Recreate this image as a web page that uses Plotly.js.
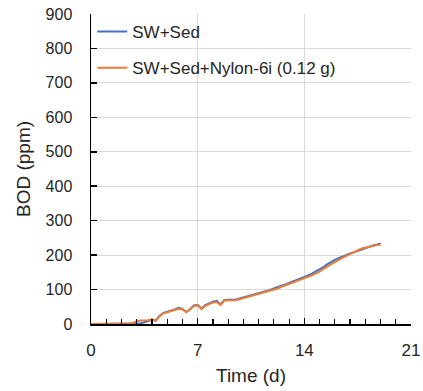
<!DOCTYPE html>
<html>
<head>
<meta charset="utf-8">
<script src="https://cdn.plot.ly/plotly-3.0.1.min.js"></script>
<style>html,body{margin:0;padding:0;background:#fff;}#chart{width:423px;height:391px;}</style>
</head>
<body>
<div id="chart"></div>
<script>
const days = [0,0.25,0.5,0.75,1,1.25,1.5,1.75,2,2.25,2.5,2.75,3,3.25,3.5,3.75,4,4.25,4.5,4.75,5,5.25,5.5,5.75,6,6.25,6.5,6.75,7,7.25,7.5,7.75,8,8.25,8.5,8.75,9,9.25,9.5,9.75,10,10.25,10.5,10.75,11,11.25,11.5,11.75,12,12.25,12.5,12.75,13,13.25,13.5,13.75,14,14.25,14.5,14.75,15,15.25,15.5,15.75,16,16.25,16.5,16.75,17,17.25,17.5,17.75,18,18.25,18.5,18.75,19];
const swSed = [0,0,0,0,0,0,0,0,0,0,0,0,1,2,5,8,12,10,24,32,35,38,42,47,44,35,43,54,56,45,55,60,65,67,57,70,70,69,71,74,77,80,82,85,88,91,95,99,103,106,111,115,119,124,128,132,137,141,146,152,158,165,173,180,186,191,196,201,205,208,212,217,221,224,228,230,234];
const swSedNylon = [0,0,0,0,0,0,0,0,0,0,0,3,8,10,10,11,14,10,22,31,34,37,40,44,42,34,42,52,54,43,53,58,62,64,55,68,68,67,69,72,75,78,80,83,86,89,92,96,100,103,108,112,116,120,124,128,133,136,141,147,152,160,167,174,180,186,192,198,204,209,214,219,222,225,228,229,230];
const seriesNames = ["SW+Sed", "SW+Sed+Nylon-6i (0.12 g)"];
const xTicks = [0, 7, 14, 21];

const font = "Liberation Sans, Arial, sans-serif";
const traces = [
  {x: days, y: swSed, name: seriesNames[0], mode: "lines", legendgroup: "a",
   line: {color: "#4472C4", width: 2}},
  {x: days, y: swSedNylon, name: seriesNames[1], mode: "lines", legendgroup: "b",
   line: {color: "#ED7D31", width: 2}}
];
const layout = {
  width: 423, height: 391,
  margin: {l: 91, r: 12, t: 14, b: 67},
  paper_bgcolor: "#fff", plot_bgcolor: "#fff",
  font: {family: font, color: "#404040", size: 16},
  showlegend: true,
  legend: {x: 0.004, y: 1.0, xanchor: "left", yanchor: "top", bgcolor: "rgba(0,0,0,0)",
           font: {size: 17, color: "#262626", family: font}, tracegroupgap: 11},
  xaxis: {
    range: [0, 21], tickvals: xTicks, ticktext: xTicks.map(String),
    showline: true, linecolor: "#000", linewidth: 1.5, mirror: false,
    ticks: "inside", ticklen: 6, tickcolor: "#000", tickwidth: 1.5,
    minor: {dtick: 1, ticks: "inside", ticklen: 5, tickcolor: "#000", tickwidth: 1.2, showgrid: false},
    showgrid: true, gridcolor: "#d9d9d9", gridwidth: 1, zeroline: false,
    tickfont: {size: 17, color: "#262626"}, ticklabelstandoff: 10,
    title: {text: "Time (d)", font: {size: 19, color: "#262626"}, standoff: 10}
  },
  yaxis: {
    range: [0, 900], dtick: 100,
    showline: true, linecolor: "#000", linewidth: 1.5,
    ticks: "inside", ticklen: 6, tickcolor: "#000", tickwidth: 1.5,
    showgrid: true, gridcolor: "#d9d9d9", gridwidth: 1, zeroline: false,
    tickfont: {size: 16, color: "#262626"}, ticklabelstandoff: 14,
    title: {text: "BOD (ppm)", font: {size: 19, color: "#262626"}, standoff: 10}
  }
};
Plotly.newPlot("chart", traces, layout, {displayModeBar: false, staticPlot: true});
</script>
</body>
</html>
